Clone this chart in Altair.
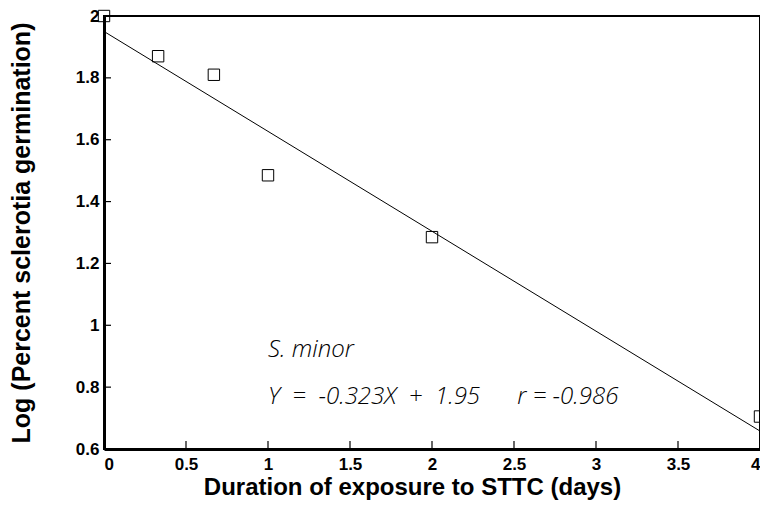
import altair as alt
import pandas as pd

# data
days = [0, 0.33, 0.67, 1, 2, 4]
log_germ = [2.0, 1.87, 1.81, 1.485, 1.285, 0.705]

slope = -0.323
intercept = 1.95
fit_x = [0, 4]

x_ticks = [0, 0.5, 1, 1.5, 2, 2.5, 3, 3.5, 4]
y_ticks = [0.6, 0.8, 1.0, 1.2, 1.4, 1.6, 1.8, 2.0]

NB = "\u00a0"
notes = ["S. minor",
         f"Y{NB}{NB}={NB}{NB}-0.323X{NB}{NB}+{NB}{NB}1.95",
         f"r{NB}={NB}-0.986"]
note_x = [1.0, 1.0, 2.52]
note_y = [0.92, 0.768, 0.768]

pts = pd.DataFrame({"x": days, "y": log_germ})
fit = pd.DataFrame({"x": fit_x, "y": [intercept + slope * v for v in fit_x]})
notes_df = pd.DataFrame({"t": notes, "x": note_x, "y": note_y})
xt = pd.DataFrame({"v": x_ticks})
yt = pd.DataFrame({"v": y_ticks})

FONT = "Liberation Sans"
xs = alt.Scale(domain=[0, 4], nice=False, zero=False)
ys = alt.Scale(domain=[0.6, 2.0], nice=False, zero=False)

xaxis = alt.Axis(values=x_ticks, format="~g", title="Duration of exposure to STTC (days)",
                 ticks=False, labelPadding=7, labelFontSize=17, labelFontWeight="bold",
                 labelFont=FONT, labelColor="black", titleFont=FONT, titleFontSize=24,
                 titleFontWeight="bold", titleColor="black", titlePadding=3,
                 domainColor="black", domainWidth=3, grid=False, titleX=308)
yaxis = alt.Axis(values=y_ticks, format="~g", title="Log (Percent sclerotia germination)",
                 ticks=False, labelPadding=5, labelFontSize=17, labelFontWeight="bold",
                 labelFont=FONT, labelColor="black", titleFont=FONT, titleFontSize=25,
                 titleFontWeight="bold", titleColor="black", titlePadding=41,
                 domainColor="black", domainWidth=3, grid=False)

points = alt.Chart(pts).mark_point(shape="square", filled=False, size=130,
                                   color="black", strokeWidth=1, opacity=1).encode(
    x=alt.X("x:Q", scale=xs, axis=xaxis),
    y=alt.Y("y:Q", scale=ys, axis=yaxis),
)

line = alt.Chart(fit).mark_line(color="black", strokeWidth=1).encode(
    x=alt.X("x:Q", scale=xs), y=alt.Y("y:Q", scale=ys))

text = alt.Chart(notes_df).mark_text(align="left", baseline="middle", font="Open Sans",
                                     fontStyle="italic", fontWeight=300, fontSize=24,
                                     color="black").encode(
    x=alt.X("x:Q", scale=xs), y=alt.Y("y:Q", scale=ys), text="t:N")

xtick = alt.Chart(xt).mark_rule(color="black", strokeWidth=1.2).encode(
    x=alt.X("v:Q", scale=xs), y=alt.value(433), y2=alt.value(425))
ytick = alt.Chart(yt).mark_rule(color="black", strokeWidth=1.2).encode(
    y=alt.Y("v:Q", scale=ys), x=alt.value(0), x2=alt.value(7))

chart = alt.layer(line, points, text, xtick, ytick).properties(
    width=656, height=433,
    autosize=alt.AutoSizeParams(type="none"),
    padding={"left": 96, "top": 8, "right": 0, "bottom": 51},
    background="white",
).configure_view(stroke="black", strokeWidth=2)

chart.save("out.html", embed_options={"renderer": "svg", "actions": False})
